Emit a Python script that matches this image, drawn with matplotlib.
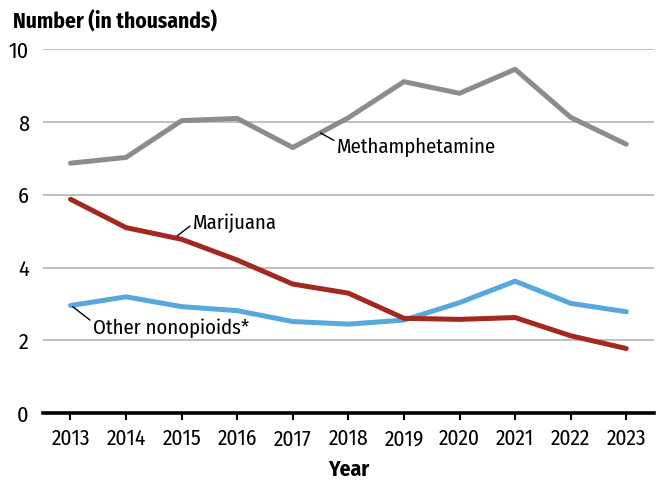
import matplotlib.pyplot as plt

years = [2013, 2014, 2015, 2016, 2017, 2018, 2019, 2020, 2021, 2022, 2023]
meth = [6.87, 7.03, 8.04, 8.10, 7.30, 8.12, 9.11, 8.79, 9.45, 8.13, 7.39]
marijuana = [5.88, 5.10, 4.78, 4.21, 3.55, 3.30, 2.61, 2.58, 2.63, 2.13, 1.78]
other = [2.96, 3.20, 2.93, 2.82, 2.52, 2.45, 2.56, 3.04, 3.63, 3.02, 2.79]

plt.rcParams['font.family'] = ['Fira Sans Condensed', 'DejaVu Sans']

fig = plt.figure(figsize=(6.57, 4.83), dpi=100)
ax = fig.add_axes([0.065, 0.1443, 0.9305, 0.7537])

# gridlines
for y in [2, 4, 6, 8, 10]:
    ax.axhline(y, color='#b4b4b4', lw=1.2, zorder=1)

ax.plot(years, meth, color='#8c8c8c', lw=3.6, solid_capstyle='round', zorder=3)
ax.plot(years, other, color='#56a8dd', lw=3.6, solid_capstyle='round', zorder=3)
ax.plot(years, marijuana, color='#a3281f', lw=3.6, solid_capstyle='round', zorder=4)

ax.set_xlim(2012.5, 2023.5)
ax.set_ylim(0, 10)
ax.set_xticks(years)
ax.set_yticks([0, 2, 4, 6, 8, 10])
ax.tick_params(axis='x', length=5, width=1.5, color='black', labelsize=15.5, pad=6)
ax.tick_params(axis='y', length=0, labelsize=16, pad=10)

for s in ['top', 'right', 'left']:
    ax.spines[s].set_visible(False)
ax.spines['bottom'].set_linewidth(2.6)
ax.spines['bottom'].set_zorder(5)

fig.text(0.02, 0.955, 'Number (in thousands)', fontsize=15.5, fontweight='bold',
         ha='left', va='center')
ax.set_xlabel('Year', fontsize=15.5, fontweight='bold', labelpad=7)

arrow = dict(arrowstyle='-', lw=1, color='black', shrinkA=0, shrinkB=0)
ax.annotate('Methamphetamine', xy=(2017.5, 7.70), xytext=(2017.79, 7.32),
            fontsize=14.8, ha='left', va='center',
            arrowprops=dict(arrow, relpos=(0, 0.75)))
ax.annotate('Marijuana', xy=(2014.9, 4.85), xytext=(2015.2, 5.23),
            fontsize=14.8, ha='left', va='center',
            arrowprops=dict(arrow, relpos=(0, 0.45)))
ax.annotate('Other nonopioids*', xy=(2013.04, 2.93), xytext=(2013.4, 2.34),
            fontsize=14.8, ha='left', va='center',
            arrowprops=dict(arrow, relpos=(0, 0.8)))

fig.savefig('out.png', dpi=100)
